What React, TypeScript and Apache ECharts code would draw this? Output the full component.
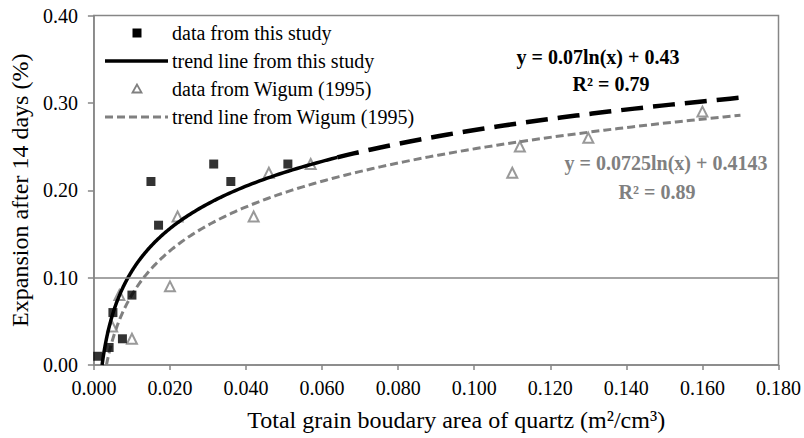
import React, { useEffect, useRef } from "react";
import * as echarts from "echarts";

// Data
const thisStudyX = [0.001, 0.004, 0.005, 0.0075, 0.01, 0.015, 0.017, 0.0315, 0.036, 0.051];
const thisStudyY = [0.01, 0.02, 0.06, 0.03, 0.08, 0.21, 0.16, 0.23, 0.21, 0.23];
const wigumX = [0.0048, 0.0067, 0.01, 0.02, 0.022, 0.042, 0.046, 0.057, 0.11, 0.112, 0.13, 0.16];
const wigumY = [0.044, 0.08, 0.03, 0.09, 0.17, 0.17, 0.22, 0.23, 0.22, 0.25, 0.26, 0.29];

// Trend line equations as printed on the chart
const thisStudyA = 0.07;
const thisStudyB = 0.43;
const wigumA = 0.0725;
const wigumB = 0.4143;
const thisStudyR2 = "0.79";
const wigumR2 = "0.89";
const thisStudySolidEnd = 0.064;
const trendEnd = 0.17;

const xTickLabelDigits = 3;
const yTickLabelDigits = 2;

const legendNames = [
  "data from this study",
  "trend line from this study",
  "data from Wigum (1995)",
  "trend line from Wigum (1995)",
];

function trendPoints(a: number, b: number, x0: number, x1: number, n: number) {
  const pts: number[][] = [];
  for (let i = 0; i <= n; i++) {
    const x = x0 * Math.pow(x1 / x0, i / n);
    pts.push([x, a * Math.log(x) + b]);
  }
  return pts;
}

const FONT = "'Liberation Serif', serif";
const GRAY = "#808080";
const AXIS_GRAY = "#868686";

export default function App() {
  const ref = useRef<HTMLDivElement>(null);
  useEffect(() => {
    if (!ref.current) return;
    const chart = echarts.init(ref.current, undefined, { renderer: "svg" });
    const x0This = Math.exp(-thisStudyB / thisStudyA);
    const x0Wig = Math.exp(-wigumB / wigumA);
    const fmtEq = (a: number, b: number) => `y = ${a}ln(x) + ${b}`;

    // legend drawn with graphic elements
    const rowY = [33, 61, 89, 117];
    const iconCx = 137;
    const lineX1 = 105;
    const lineX2 = 168;
    const textX = 172;
    const legendText = (i: number) => ({
      type: "text",
      x: textX,
      y: rowY[i],
      style: {
        text: legendNames[i],
        fontFamily: FONT,
        fontSize: 20,
        fill: "#000",
        align: "left",
        verticalAlign: "middle",
      },
    });
    const eqText = (text: string, x: number, y: number, fill: string) => ({
      type: "text",
      x,
      y,
      style: {
        text,
        fontFamily: FONT,
        fontSize: 20,
        fontWeight: "bold",
        fill,
        align: "center",
        verticalAlign: "middle",
      },
    });

    chart.setOption({
      animation: false,
      backgroundColor: "#fff",
      textStyle: { fontFamily: FONT },
      grid: {
        left: 86,
        right: 25,
        top: 15.5,
        bottom: 73,
        show: true,
        borderColor: AXIS_GRAY,
        borderWidth: 1.5,
      },
      xAxis: {
        type: "value",
        min: 0,
        max: 0.18,
        interval: 0.02,
        name: "Total grain boudary area of quartz (m²/cm³)",
        nameLocation: "middle",
        nameGap: 43,
        nameTextStyle: { fontFamily: FONT, fontSize: 24, color: "#000", padding: [0, 0, 0, 40] },
        axisLine: { show: true, lineStyle: { color: AXIS_GRAY, width: 1.5 } },
        axisTick: { show: true, length: 5, lineStyle: { color: AXIS_GRAY, width: 1.5 } },
        splitLine: { show: false },
        axisLabel: {
          fontFamily: FONT,
          fontSize: 20,
          color: "#000",
          margin: 13,
          formatter: (v: number) => v.toFixed(xTickLabelDigits),
        },
      },
      yAxis: {
        type: "value",
        min: 0,
        max: 0.4,
        interval: 0.1,
        name: "Expansion after 14 days (%)",
        nameLocation: "middle",
        nameGap: 52,
        nameTextStyle: { fontFamily: FONT, fontSize: 24, color: "#000" },
        axisLine: { show: true, lineStyle: { color: AXIS_GRAY, width: 1.5 } },
        axisTick: { show: true, length: 6, lineStyle: { color: AXIS_GRAY, width: 1.5 } },
        splitLine: { show: false },
        axisLabel: {
          fontFamily: FONT,
          fontSize: 20,
          color: "#000",
          margin: 16,
          formatter: (v: number) => v.toFixed(yTickLabelDigits),
        },
      },
      series: [
        {
          name: legendNames[3],
          type: "line",
          data: trendPoints(wigumA, wigumB, x0Wig, trendEnd, 150),
          showSymbol: false,
          symbol: "none",
          lineStyle: { color: GRAY, width: 3, type: [8, 4] },
          itemStyle: { color: GRAY },
          z: 2,
          markLine: {
            silent: true,
            symbol: ["none", "none"],
            label: { show: false },
            lineStyle: { color: AXIS_GRAY, width: 1.5, type: "solid" },
            data: [{ yAxis: 0.1 }],
          },
        },
        {
          name: legendNames[2],
          type: "scatter",
          data: wigumX.map((x, i) => [x, wigumY[i]]),
          symbol: "triangle",
          symbolSize: 10,
          itemStyle: { color: "#fff", borderColor: GRAY, borderWidth: 2 },
          z: 3,
        },
        {
          name: legendNames[1],
          type: "line",
          data: trendPoints(thisStudyA, thisStudyB, x0This, thisStudySolidEnd, 150),
          showSymbol: false,
          symbol: "none",
          lineStyle: { color: "#000", width: 3.5, type: "solid" },
          itemStyle: { color: "#000" },
          z: 4,
        },
        {
          name: "trend line from this study (extension)",
          type: "line",
          data: trendPoints(thisStudyA, thisStudyB, thisStudySolidEnd, trendEnd, 60),
          showSymbol: false,
          symbol: "none",
          lineStyle: { color: "#000", width: 4.5, type: [22, 10] },
          itemStyle: { color: "#000" },
          z: 4,
        },
        {
          name: legendNames[0],
          type: "scatter",
          data: thisStudyX.map((x, i) => [x, thisStudyY[i]]),
          symbol: "rect",
          symbolSize: 9,
          itemStyle: { color: "#000" },
          z: 5,
        },
      ],
      graphic: [
        {
          type: "rect",
          shape: { x: iconCx - 4.5, y: rowY[0] - 4.5, width: 9, height: 9 },
          style: { fill: "#000" },
        },
        {
          type: "line",
          shape: { x1: lineX1, y1: rowY[1], x2: lineX2, y2: rowY[1] },
          style: { stroke: "#000", lineWidth: 3.5 },
        },
        {
          type: "polygon",
          shape: {
            points: [
              [iconCx, rowY[2] - 4.5],
              [iconCx - 4.5, rowY[2] + 3.5],
              [iconCx + 4.5, rowY[2] + 3.5],
            ],
          },
          style: { fill: "#fff", stroke: GRAY, lineWidth: 1.8 },
        },
        {
          type: "line",
          shape: { x1: lineX1, y1: rowY[3], x2: lineX2, y2: rowY[3] },
          style: { stroke: GRAY, lineWidth: 3, lineDash: [8, 4] },
        },
        legendText(0),
        legendText(1),
        legendText(2),
        legendText(3),
        eqText(fmtEq(thisStudyA, thisStudyB), 598, 57, "#000"),
        eqText(`R² = ${thisStudyR2}`, 611, 84, "#000"),
        eqText(fmtEq(wigumA, wigumB), 666, 163, GRAY),
        eqText(`R² = ${wigumR2}`, 657, 192, GRAY),
      ],
    });
    return () => chart.dispose();
  }, []);
  return (
    <div
      ref={ref}
      style={{ position: "fixed", left: 0, top: 0, width: 804, height: 438, background: "#fff" }}
    />
  );
}
